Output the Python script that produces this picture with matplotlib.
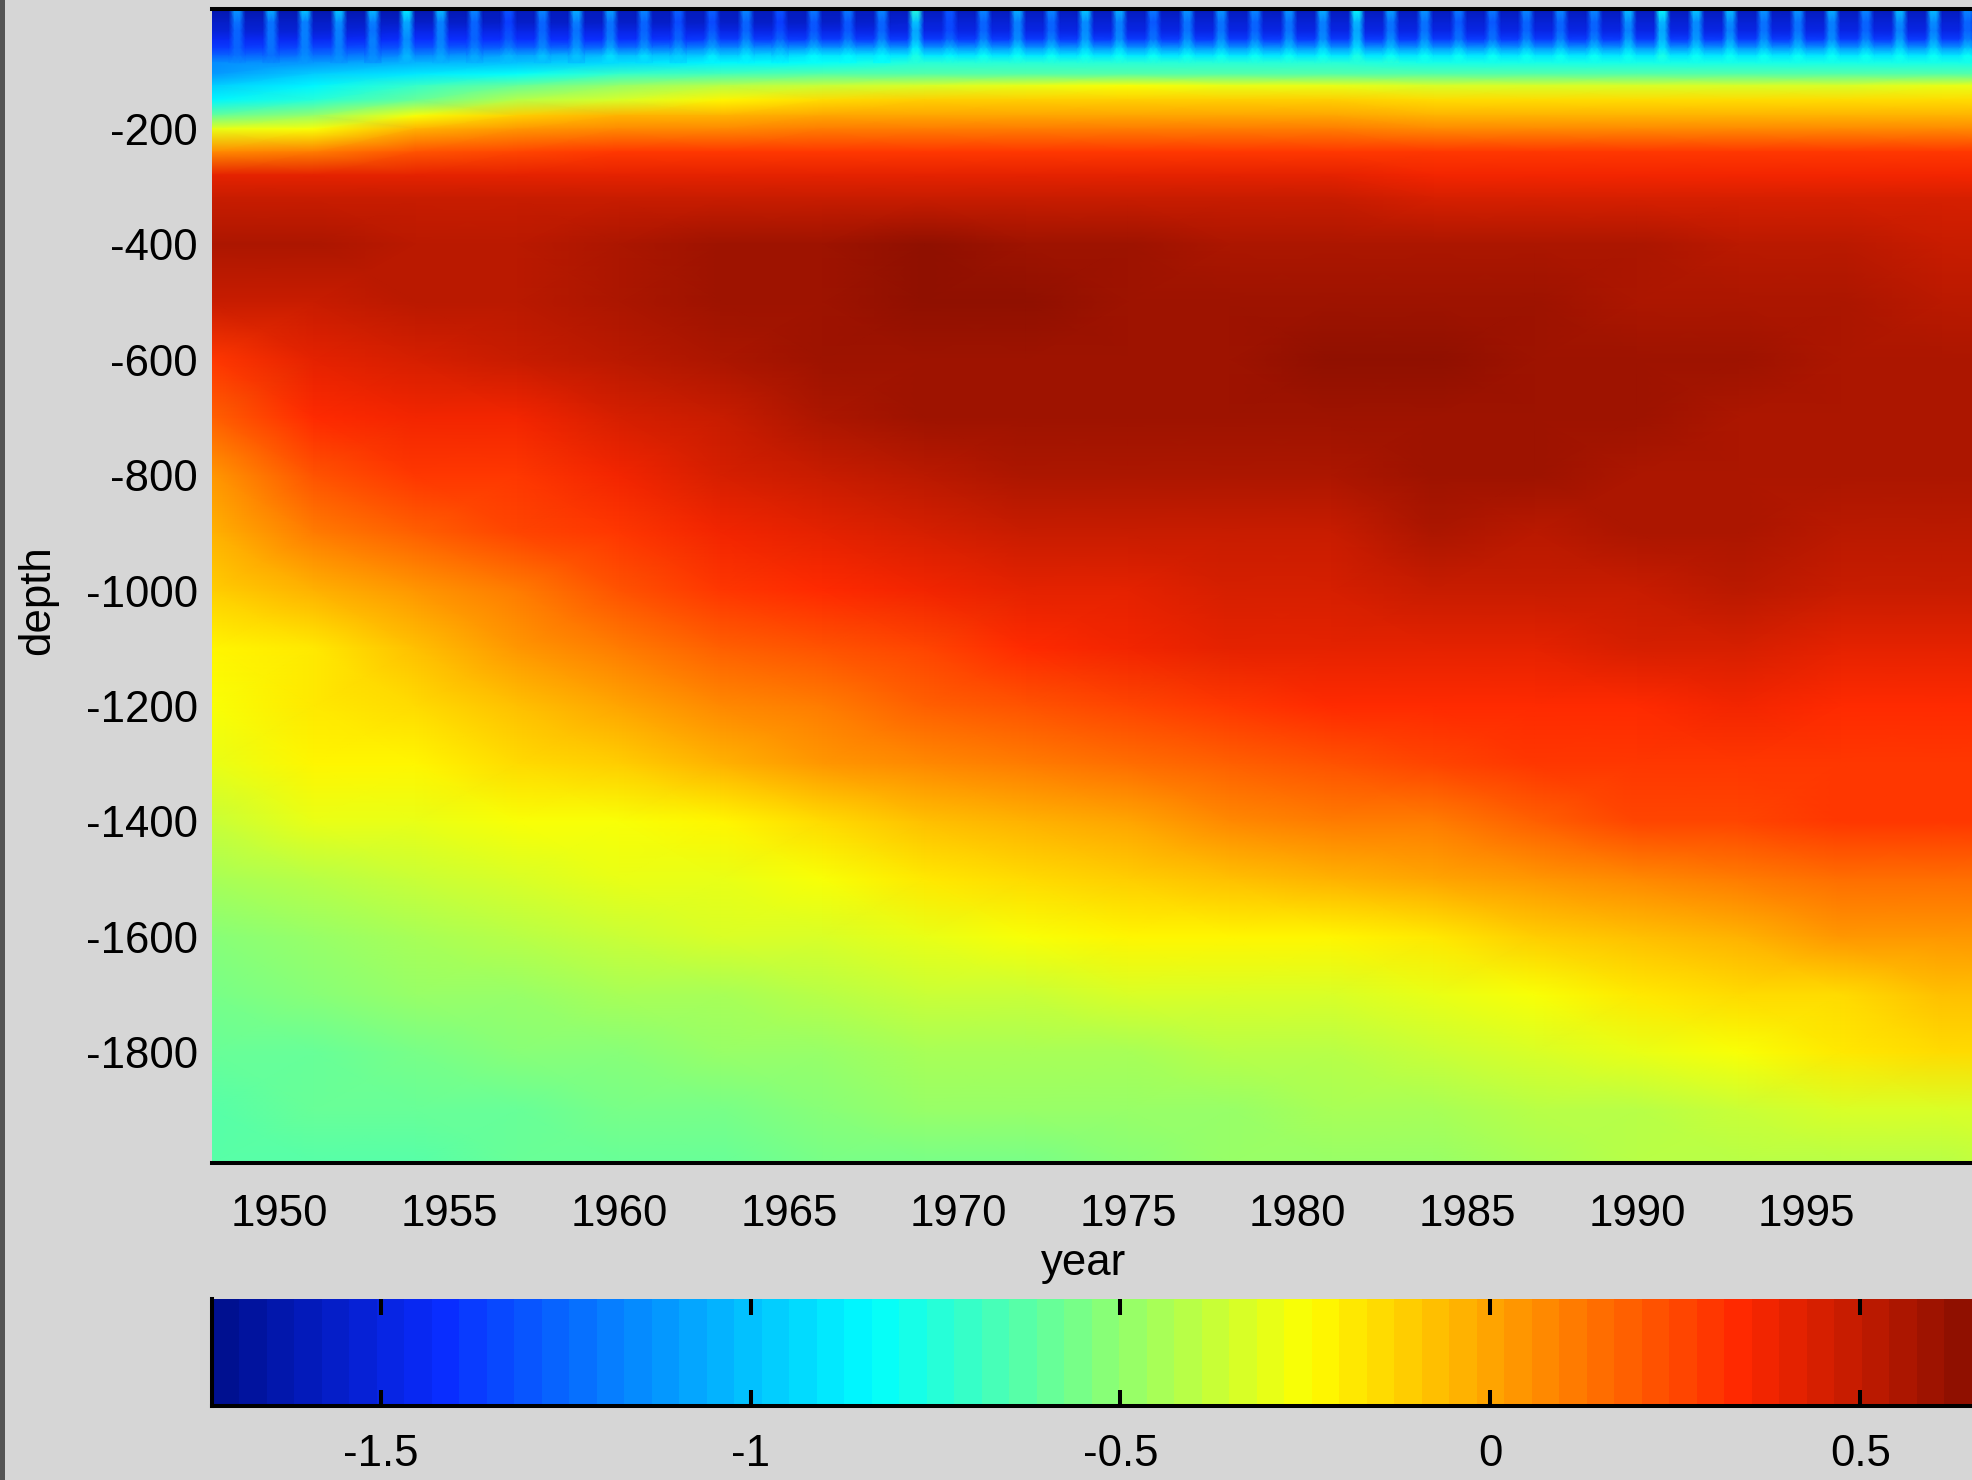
import numpy as np
import matplotlib
matplotlib.use('Agg')
import matplotlib.pyplot as plt
from matplotlib.colors import LinearSegmentedColormap, Normalize
from matplotlib.patches import Rectangle

plt.rcParams['font.family'] = ['Liberation Sans', 'DejaVu Sans']

# columns of the field, read every 3 years
years = [1948, 1951, 1954, 1957, 1960, 1963, 1966, 1969, 1972, 1975, 1978, 1981, 1984, 1987, 1990, 1993, 1996, 1999, 2001]
depths = [8, -15, -30, -45, -60, -73, -85, -105, -125, -150, -177, -200, -240, -280, -320, -400, -500, -600,
          -700, -800, -900, -1000, -1100, -1200, -1300, -1400, -1500, -1600, -1700, -1800, -1900, -1992]
field = [
    [-1.63, -1.62, -1.62, -1.61, -1.61, -1.61, -1.6, -1.6, -1.6, -1.6, -1.6, -1.6, -1.6, -1.6, -1.6, -1.6, -1.6, -1.6, -1.6],
    [-1.57, -1.57, -1.56, -1.55, -1.55, -1.55, -1.55, -1.54, -1.54, -1.54, -1.54, -1.54, -1.54, -1.54, -1.54, -1.54, -1.54, -1.54, -1.54],
    [-1.52, -1.51, -1.5, -1.49, -1.49, -1.49, -1.48, -1.47, -1.47, -1.47, -1.47, -1.47, -1.47, -1.47, -1.47, -1.47, -1.47, -1.47, -1.47],
    [-1.45, -1.44, -1.43, -1.41, -1.4, -1.38, -1.36, -1.36, -1.36, -1.36, -1.36, -1.36, -1.36, -1.36, -1.36, -1.36, -1.36, -1.36, -1.36],
    [-1.38, -1.35, -1.3, -1.27, -1.22, -1.16, -1.13, -1.12, -1.12, -1.12, -1.12, -1.12, -1.12, -1.12, -1.12, -1.12, -1.12, -1.12, -1.12],
    [-1.28, -1.22, -1.14, -1.07, -1.0, -0.95, -0.9, -0.88, -0.88, -0.88, -0.88, -0.88, -0.88, -0.88, -0.88, -0.88, -0.88, -0.88, -0.88],
    [-1.15, -1.1, -1.05, -1.0, -0.93, -0.85, -0.8, -0.76, -0.75, -0.75, -0.75, -0.76, -0.77, -0.78, -0.78, -0.78, -0.78, -0.78, -0.78],
    [-1.1, -0.98, -0.9, -0.8, -0.72, -0.68, -0.65, -0.62, -0.62, -0.62, -0.62, -0.63, -0.64, -0.64, -0.64, -0.64, -0.64, -0.64, -0.64],
    [-0.95, -0.85, -0.72, -0.58, -0.48, -0.42, -0.37, -0.33, -0.3, -0.27, -0.28, -0.3, -0.32, -0.32, -0.32, -0.33, -0.32, -0.31, -0.3],
    [-0.85, -0.75, -0.58, -0.42, -0.32, -0.22, -0.15, -0.12, -0.1, -0.1, -0.1, -0.12, -0.15, -0.15, -0.15, -0.15, -0.15, -0.15, -0.15],
    [-0.6, -0.48, -0.26, -0.12, -0.05, -0.03, 0.0, 0.0, 0.0, 0.0, 0.0, -0.01, -0.02, -0.02, -0.02, -0.02, -0.02, -0.02, -0.02],
    [-0.3, -0.25, -0.05, 0.03, 0.06, 0.08, 0.1, 0.1, 0.1, 0.1, 0.1, 0.1, 0.08, 0.08, 0.08, 0.08, 0.08, 0.08, 0.08],
    [0.08, 0.12, 0.22, 0.26, 0.28, 0.3, 0.3, 0.3, 0.3, 0.3, 0.3, 0.3, 0.3, 0.3, 0.3, 0.3, 0.3, 0.3, 0.3],
    [0.42, 0.4, 0.4, 0.4, 0.4, 0.4, 0.4, 0.4, 0.4, 0.4, 0.4, 0.4, 0.39, 0.38, 0.38, 0.37, 0.37, 0.37, 0.37],
    [0.49, 0.49, 0.48, 0.48, 0.48, 0.48, 0.48, 0.48, 0.48, 0.48, 0.47, 0.47, 0.46, 0.45, 0.45, 0.44, 0.44, 0.44, 0.44],
    [0.55, 0.56, 0.53, 0.53, 0.54, 0.58, 0.6, 0.62, 0.6, 0.59, 0.56, 0.56, 0.56, 0.56, 0.54, 0.52, 0.52, 0.5, 0.5],
    [0.47, 0.5, 0.52, 0.52, 0.55, 0.58, 0.6, 0.62, 0.62, 0.61, 0.6, 0.6, 0.59, 0.58, 0.55, 0.54, 0.54, 0.53, 0.53],
    [0.3, 0.4, 0.45, 0.48, 0.52, 0.57, 0.6, 0.61, 0.61, 0.61, 0.61, 0.62, 0.63, 0.61, 0.58, 0.58, 0.56, 0.56, 0.56],
    [0.18, 0.32, 0.36, 0.38, 0.45, 0.5, 0.54, 0.58, 0.59, 0.6, 0.6, 0.6, 0.61, 0.61, 0.58, 0.57, 0.56, 0.55, 0.55],
    [0.05, 0.22, 0.3, 0.3, 0.38, 0.45, 0.47, 0.52, 0.54, 0.56, 0.54, 0.55, 0.58, 0.58, 0.56, 0.56, 0.56, 0.54, 0.54],
    [-0.02, 0.1, 0.18, 0.26, 0.3, 0.38, 0.4, 0.46, 0.48, 0.5, 0.5, 0.5, 0.55, 0.53, 0.54, 0.55, 0.52, 0.52, 0.52],
    [-0.12, -0.04, 0.04, 0.12, 0.22, 0.28, 0.32, 0.36, 0.4, 0.42, 0.44, 0.46, 0.48, 0.5, 0.5, 0.52, 0.5, 0.48, 0.47],
    [-0.22, -0.17, -0.06, 0.02, 0.11, 0.18, 0.23, 0.27, 0.32, 0.36, 0.4, 0.41, 0.42, 0.42, 0.45, 0.46, 0.42, 0.42, 0.42],
    [-0.27, -0.2, -0.16, -0.07, 0.0, 0.07, 0.12, 0.18, 0.22, 0.26, 0.3, 0.32, 0.33, 0.33, 0.35, 0.38, 0.35, 0.34, 0.34],
    [-0.31, -0.24, -0.24, -0.16, -0.1, -0.03, 0.02, 0.07, 0.12, 0.16, 0.2, 0.22, 0.25, 0.28, 0.3, 0.3, 0.3, 0.3, 0.3],
    [-0.37, -0.31, -0.29, -0.27, -0.25, -0.22, -0.14, -0.09, -0.03, 0.0, 0.06, 0.1, 0.13, 0.2, 0.25, 0.25, 0.28, 0.3, 0.3],
    [-0.45, -0.4, -0.37, -0.34, -0.31, -0.28, -0.25, -0.2, -0.15, -0.1, -0.06, -0.03, 0.0, 0.02, 0.06, 0.1, 0.14, 0.16, 0.16],
    [-0.52, -0.47, -0.44, -0.41, -0.38, -0.35, -0.32, -0.29, -0.26, -0.23, -0.22, -0.21, -0.17, -0.12, -0.07, -0.03, 0.04, 0.02, 0.02],
    [-0.57, -0.53, -0.5, -0.47, -0.45, -0.43, -0.41, -0.38, -0.36, -0.34, -0.33, -0.32, -0.3, -0.26, -0.2, -0.16, -0.13, -0.09, -0.09],
    [-0.61, -0.58, -0.55, -0.53, -0.51, -0.5, -0.48, -0.46, -0.45, -0.44, -0.42, -0.4, -0.38, -0.35, -0.31, -0.27, -0.2, -0.16, -0.15],
    [-0.63, -0.61, -0.59, -0.58, -0.56, -0.54, -0.52, -0.5, -0.49, -0.48, -0.47, -0.45, -0.43, -0.42, -0.39, -0.36, -0.34, -0.33, -0.32],
    [-0.63, -0.63, -0.62, -0.6, -0.59, -0.58, -0.56, -0.55, -0.54, -0.53, -0.5, -0.48, -0.47, -0.46, -0.42, -0.41, -0.41, -0.39, -0.38],
]

# summer peak at the surface, one per year 1948-1999
peak_year = list(range(1948, 2000))
peak_value = [-1.1, -1.05, -0.98, -0.97, -1.0, -0.85, -1.0, -1.15, -1.3, -1.15, -1.05, -1.08, -1.15,
              -1.25, -1.25, -1.15, -1.3, -1.2, -1.2, -1.15, -0.75, -1.3, -1.15, -1.05, -1.15, -0.95,
              -1.05, -1.2, -1.1, -1.1, -1.15, -1.1, -1.05, -0.8, -1.08, -1.1, -1.2, -1.2, -1.15, -1.15,
              -1.15, -1.0, -0.8, -0.95, -1.0, -1.1, -1.1, -1.05, -1.15, -1.0, -1.0, -1.15]
# how much of the peak is left at each of the top depths
peak_share = [1.0, 0.62, 0.48, 0.38, 0.25, 0.12, 0.0]

depth_ticks = [-200, -400, -600, -800, -1000, -1200, -1400, -1600, -1800]
year_ticks = [1950, 1955, 1960, 1965, 1970, 1975, 1980, 1985, 1990, 1995]
bar_ticks = [-1.5, -1, -0.5, 0, 0.5]
bar_labels = ['-1.5', '-1', '-0.5', '0', '0.5']

vmin, vmax = -1.728, 0.651
cmap = LinearSegmentedColormap.from_list(
    'jet64',
    [(0, '#001090'), (0.125, '#0a2cff'), (0.375, '#00ffff'), (0.5, '#80ff80'),
     (0.625, '#ffff00'), (0.875, '#ff2800'), (1, '#901000')], N=64)
norm = Normalize(vmin, vmax)

W, H = 1972, 1480
grey = '#d6d6d6'
fig = plt.figure(figsize=(W / 100, H / 100), dpi=100, facecolor=grey)
fs = 31.5

ax = fig.add_axes([212 / W, 1 - 1163 / H, 1 - 212 / W, (1163 - 9) / H], facecolor=grey)
table = np.array(field)
ax.pcolormesh(years, depths, table, shading='gouraud', cmap=cmap, norm=norm)

# thin summer stripes in the top layer
n = len(peak_share)
for yr, pk in zip(peak_year, peak_value):
    col = int(np.abs(np.array(years) - yr).argmin())
    base = table[:n, col]
    stripe = base + np.array(peak_share) * (pk - base[0])
    c = np.column_stack([base, stripe, stripe, base])
    ax.pcolormesh([yr + 0.5, yr + 0.66, yr + 0.82, yr + 0.98], depths[:n], c,
                  shading='gouraud', cmap=cmap, norm=norm)

ax.set_xlim(1948, 1999.87)
ax.set_ylim(-1992, 8)
ax.set_xticks(year_ticks)
ax.set_xticklabels([str(y) for y in year_ticks])
ax.set_yticks(depth_ticks)
ax.set_yticklabels([str(d) for d in depth_ticks])
ax.tick_params(axis='x', length=0, pad=22, labelsize=fs)
ax.tick_params(axis='y', length=0, pad=10, labelsize=fs)
for side in ['left', 'right']:
    ax.spines[side].set_visible(False)
for side in ['top', 'bottom']:
    ax.spines[side].set_linewidth(2.9)

fig.text(1084 / W, 1 - 1264 / H, 'year', fontsize=fs, ha='center', va='center')
fig.text(38 / W, 1 - 600 / H, 'depth', fontsize=fs, rotation=90, ha='center', va='center')

# colour bar
cax = fig.add_axes([212 / W, 1 - 1406 / H, 1 - 212 / W, (1406 - 1299) / H], facecolor=grey)
cax.imshow(np.linspace(vmin, vmax, 64)[None, :], extent=[vmin, vmax, 0, 1], aspect='auto',
           cmap=cmap, norm=norm, interpolation='nearest')
cax.set_yticks([])
cax.set_xticks(bar_ticks)
cax.set_xticklabels(bar_labels)
cax.tick_params(axis='x', direction='in', top=True, bottom=True, length=11.5, width=2.9, pad=20, labelsize=fs)
for side in ['top', 'right']:
    cax.spines[side].set_visible(False)
for side in ['left', 'bottom']:
    cax.spines[side].set_linewidth(2.9)

# dark strip along the left edge of the window
fig.patches.append(Rectangle((0, 0), 5 / W, 1, transform=fig.transFigure, facecolor='#555555', edgecolor='none'))

fig.savefig('out.png', dpi=100, facecolor=grey)
